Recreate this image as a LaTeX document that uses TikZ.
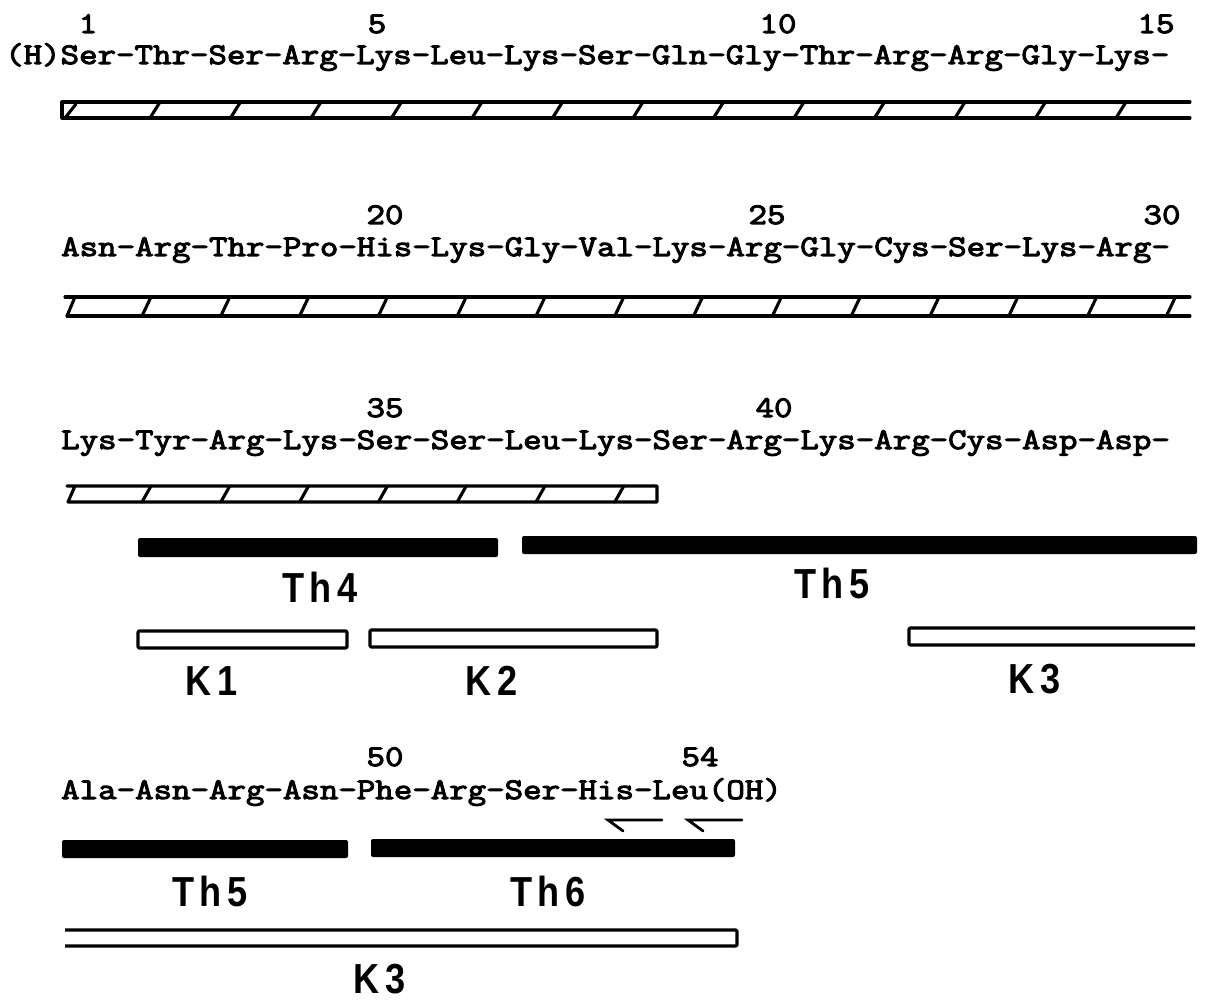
\documentclass[tikz,border=0pt]{standalone}
\usepackage{fontspec}
\usetikzlibrary{arrows.meta}
\newfontfamily\seqfont[FakeStretch=1.196,FakeBold=3.5]{Latin Modern Mono}
\newfontfamily\labfont[FakeStretch=0.86,LetterSpace=14]{Liberation Sans}
\tikzset{
  seq/.style={inner sep=0pt,anchor=base west,font=\seqfont\fontsize{30}{30}\selectfont},
  num/.style={inner sep=0pt,anchor=base,font=\seqfont\fontsize{30}{30}\selectfont},
  lab/.style={inner sep=0pt,anchor=base,font=\labfont\bfseries\fontsize{42}{42}\selectfont},
  barline/.style={line width=3.1pt,line cap=round,line join=round},
  solidbar/.style={fill=black,rounded corners=2pt},
  openbar/.style={line width=3.1pt,line join=round,rounded corners=1pt},
  harp/.style={line width=2.8pt,line cap=round,line join=miter}
}
\begin{document}
\begin{tikzpicture}[x=1pt,y=-1pt]
\useasboundingbox (0,0) rectangle (1221,1000);

% ---- residues 1-15 ----
\node[num] (n1)  at (88,33)   {1};
\node[num] (n5)  at (377,33)  {5};
\node[num] (n10) at (778,33)  {10};
\node[num] (n15) at (1156,33) {15};
\node[seq] (row1) at (5,64) {(H)Ser-Thr-Ser-Arg-Lys-Leu-Lys-Ser-Gln-Gly-Thr-Arg-Arg-Gly-Lys-};
\draw[barline] (1190,102) -- (62,102) -- (62,118) -- (1190,118);
\draw[barline] (65,118) -- (76,104);
\foreach \k in {0,...,12} \draw[barline] ({150+80.5*\k},118) -- ({160+80.5*\k},102);

% ---- residues 16-30 ----
\node[num] (n20) at (385,224)  {20};
\node[num] (n25) at (767,224)  {25};
\node[num] (n30) at (1162,224) {30};
\node[seq] (row2) at (61,256) {Asn-Arg-Thr-Pro-His-Lys-Gly-Val-Lys-Arg-Gly-Cys-Ser-Lys-Arg-};
\draw[barline] (65,297) -- (1190,297);
\draw[barline] (67,316) -- (1190,316);
\draw[barline] (67,316) -- (75,297);
\foreach \k in {0,...,13} \draw[barline] ({142+78.8*\k},316) -- ({151+78.8*\k},297);

% ---- residues 31-45 ----
\node[num] (n35) at (385,417) {35};
\node[num] (n40) at (774,417) {40};
\node[seq] (row3) at (61,449) {Lys-Tyr-Arg-Lys-Ser-Ser-Leu-Lys-Ser-Arg-Lys-Arg-Cys-Asp-Asp-};
\draw[barline] (67,486) -- (657,486) -- (657,502) -- (68,502) -- (75,486);
\foreach \k in {0,...,6} \draw[barline] ({142+78.8*\k},502) -- ({151+78.8*\k},486);

\fill[solidbar] (138,538) rectangle (498,557);
\fill[solidbar] (522,536) rectangle (1197,554);
\node[lab] (th4) at (320,602) {Th4};
\node[lab] (th5a) at (832,598) {Th5};

\draw[openbar] (138,631) rectangle (347,648);
\draw[openbar] (370,630) rectangle (657,647);
\draw[openbar] (1195,628) -- (909,628) -- (909,645) -- (1195,645);
\node[lab] (k1) at (212,695) {K1};
\node[lab] (k2) at (492,695) {K2};
\node[lab] (k3a) at (1035,693) {K3};

% ---- residues 46-54 ----
\node[num] (n50) at (385,766) {50};
\node[num] (n54) at (700,766) {54};
\node[seq] (row4) at (61,799) {Ala-Asn-Arg-Asn-Phe-Arg-Ser-His-Leu(OH)};
\coordinate (a1s) at (662,820);
\coordinate (a1e) at (608,820);
\coordinate (a2s) at (742,820);
\coordinate (a2e) at (688,820);
% left-pointing harpoons, barb hanging below the tip
\draw[harp] (a1s) -- (a1e) -- ++(15,11);
\draw[harp] (a2s) -- (a2e) -- ++(15,11);

\fill[solidbar] (62,840) rectangle (348,858);
\fill[solidbar] (371,839) rectangle (735,857);
\node[lab] (th5b) at (210,906) {Th5};
\node[lab] (th6) at (548,906) {Th6};

\draw[openbar] (65,930) -- (737,930) -- (737,946) -- (65,946);
\node[lab] (k3b) at (380,993) {K3};
\end{tikzpicture}
\end{document}
